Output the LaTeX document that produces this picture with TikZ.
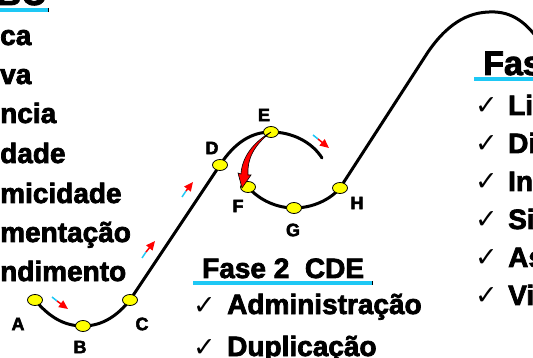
\documentclass[tikz,border=0pt]{standalone}
\usepackage{fontspec}
\setmainfont{Liberation Sans}[BoldFeatures={FakeBold=2.6}]
\newfontfamily\symfont{DejaVu Sans}
\usetikzlibrary{arrows.meta, positioning, shapes.geometric, backgrounds, calc}
\definecolor{skyline}{RGB}{30,200,245}
\definecolor{pointyellow}{RGB}{255,255,0}
\tikzset{
  point/.style={draw=black, ellipse, fill=pointyellow, line width=0.8pt, minimum width=15pt, minimum height=11pt, inner sep=0pt},
  letter/.style={font=\fontsize{18}{18}\selectfont\bfseries, inner sep=0pt},
  track/.style={line width=3pt, draw=black, line cap=round},
  item/.style={font=\fontsize{28}{28}\selectfont\bfseries, inner sep=0pt},
  header/.style={font=\fontsize{28}{28}\selectfont\bfseries, inner sep=0pt},
  bigheader/.style={font=\fontsize{34}{34}\selectfont\bfseries, inner sep=0pt},
  tick/.style={font=\symfont\fontsize{27}{27}\selectfont, inner sep=0pt, anchor=base west},
  underline/.style={draw=skyline, line width=3.5pt},
  shaft/.style={draw=skyline, line width=1.5pt},
  headarrow/.style={draw=red, line width=1.5pt, -{Triangle[length=9pt, width=8pt]}}
}

\begin{document}
\begin{tikzpicture}[x=1pt, y=-1pt]
\useasboundingbox (0,0) rectangle (533,358);
\clip (0,0) rectangle (533,358);

% points on the track
\node[point] (A) at (35,300) {};
\node[point] (B) at (83,326) {};
\node[point] (C) at (130,300) {};
\node[point] (D) at (220,165) {};
\node[point] (E) at (271,132) {};
\node[point] (F) at (248,187) {};
\node[point] (G) at (294,208) {};
\node[point] (H) at (340,188) {};
\coordinate (loopend) at (322,158);
\coordinate (rise) at (428,52);
\coordinate (peak) at (495,12);
\coordinate (fall) at (545,50);

\node[letter] (labA) at (18,324) {A};
\node[letter] (labB) at (80,347) {B};
\node[letter] (labC) at (142,324) {C};
\node[letter] (labD) at (212,148) {D};
\node[letter] (labE) at (264,115) {E};
\node[letter] (labF) at (238,206) {F};
\node[letter] (labG) at (293,230) {G};
\node[letter] (labH) at (357,203) {H};

\begin{scope}[on background layer]
\draw[track] (A.center) .. controls (50,318) and (65,326) .. (B.center)
  .. controls (103,326) and (118,315) .. (C.center) -- (D.center)
  .. controls (235,142) and (252,132) .. (E.center)
  .. controls (292,132) and (312,142) .. (loopend);
\draw[track] (F.center) .. controls (260,201) and (278,208) .. (G.center)
  .. controls (312,208) and (330,200) .. (H.center) -- (rise)
  .. controls (450,20) and (472,11) .. (peak)
  .. controls (515,13) and (530,25) .. (fall);
\end{scope}

% jump from E to F
\filldraw[fill=red, draw=black, line width=0.6pt] (E.center) .. controls (253,146) and (247,160) .. (248,175)
  -- (251,175) -- (242,188) -- (238,173) -- (241,174) .. controls (242,158) and (252,143) .. (E.center) -- cycle;

% direction marks
\draw[shaft] (52,297) -- (57,301);
\draw[headarrow] (57,301) -- (68,309);
\draw[shaft] (142,258) -- (146,252);
\draw[headarrow] (146,252) -- (155,241);
\draw[shaft] (182,197) -- (186,191);
\draw[headarrow] (186,191) -- (193,182);
\draw[shaft] (313,135) -- (318,139);
\draw[headarrow] (318,139) -- (329,148);

% phase ABC
\node[bigheader, anchor=base east] (abc) at (46,5) {ABC};
\draw[underline] (0,10) -- (48,10);
\draw[line width=1pt] (48,8) -- (48,12);
\node[item, anchor=base west] (w1) at (0,45) {ca};
\node[item, anchor=base west] (w2) at (0,84) {va};
\node[item, anchor=base west] (w3) at (0,123) {ncia};
\node[item, anchor=base west] (w4) at (0,163) {dade};
\node[item, anchor=base west] (w5) at (0,203) {micidade};
\node[item, anchor=base west] (w6) at (0,242) {mentação};
\node[item, anchor=base west] (w7) at (0,281) {ndimento};

% phase 2
\node[header, anchor=base west] (fase2) at (202,278) {Fase 2\ \ CDE};
\draw[underline] (193,283) -- (372,283);
\draw[line width=1pt] (372,281) -- (372,285);
\node[tick] (t21) at (193,314) {✓};
\node[item, anchor=base west] (adm) at (227,314) {Administração};
\node[tick] (t22) at (193,356) {✓};
\node[item, anchor=base west] (dup) at (227,356) {Duplicação};

% phase 3
\node[bigheader, anchor=base west] (fase3) at (483,75) {Fas};
\draw[underline] (474,79) -- (533,79);
\node[tick] (t31) at (475,115) {✓};
\node[item, anchor=base west] (r1) at (508,115) {Li};
\node[tick] (t32) at (475,153) {✓};
\node[item, anchor=base west] (r2) at (508,153) {Di};
\node[tick] (t33) at (475,191) {✓};
\node[item, anchor=base west] (r3) at (508,191) {In};
\node[tick] (t34) at (475,229) {✓};
\node[item, anchor=base west] (r4) at (508,229) {Si};
\node[tick] (t35) at (475,267) {✓};
\node[item, anchor=base west] (r5) at (508,267) {As};
\node[tick] (t36) at (475,305) {✓};
\node[item, anchor=base west] (r6) at (508,305) {Vi};

\end{tikzpicture}
\end{document}
